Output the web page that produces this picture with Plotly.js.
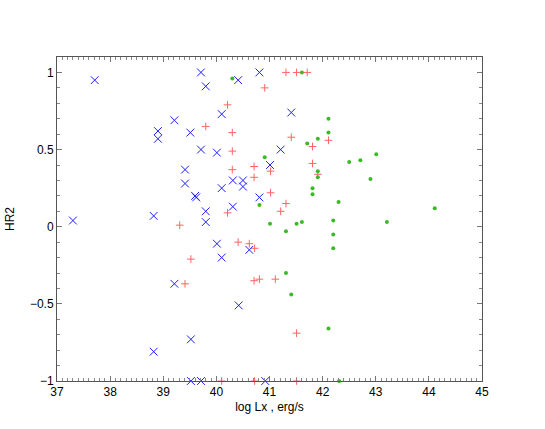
<!DOCTYPE html>
<html>
<head>
<meta charset="utf-8">
<script src="https://cdn.plot.ly/plotly-3.0.1.min.js"></script>
<style>html,body{margin:0;padding:0;background:#fff;}#chart{width:545px;height:429px;}</style>
</head>
<body>
<div id="chart"></div>
<script>
// Blue "x" markers
const blueX = [37.30, 37.71, 38.90, 38.90, 39.21, 39.51, 39.71, 39.80, 39.71, 39.41, 39.41, 39.60, 39.62, 39.80, 39.80, 38.82,
  40.81, 40.41, 40.10, 41.41, 40.01, 41.21, 41.01, 40.31, 40.50, 40.50, 40.10, 40.81, 40.31, 40.01, 40.10, 40.62, 40.42,
  40.92, 39.21, 39.52, 38.82, 39.52, 39.71];
const blueY = [0.04, 0.95, 0.62, 0.57, 0.69, 0.61, 1.00, 0.91, 0.50, 0.37, 0.28, 0.20, 0.19, 0.10, 0.03, 0.07,
  1.00, 0.95, 0.73, 0.74, 0.48, 0.50, 0.40, 0.30, 0.30, 0.26, 0.25, 0.19, 0.13, -0.11, -0.20, -0.15, -0.51,
  -1.00, -0.37, -0.73, -0.81, -1.00, -1.00];

// Red "+" markers
const redX = [39.80, 39.31, 41.31, 41.51, 41.71, 40.91, 40.21, 40.30, 41.41, 42.11, 41.81, 40.30, 41.81, 40.71, 41.02, 40.30,
  41.91, 40.71, 41.02, 41.31, 41.21, 40.21, 40.41, 40.62, 40.72, 40.71, 40.81, 41.11, 41.51, 40.10, 40.72, 41.51, 39.52, 39.41];
const redY = [0.65, 0.01, 1.00, 1.00, 1.00, 0.90, 0.79, 0.61, 0.58, 0.56, 0.52, 0.49, 0.41, 0.39, 0.36, 0.37,
  0.34, 0.32, 0.22, 0.15, 0.10, 0.09, -0.10, -0.11, -0.14, -0.35, -0.34, -0.34, -0.69, -1.00, -1.00, -1.00, -0.21, -0.37];

// Green dots
const greenX = [40.30, 41.61, 42.11, 42.11, 41.91, 41.71, 42.50, 40.91, 41.91, 41.91, 41.81, 41.81, 42.30, 40.81, 42.20,
  41.01, 41.51, 41.61, 42.71, 43.01, 42.90, 44.11, 43.21, 41.31, 42.20, 42.20, 41.31, 41.41, 42.11, 42.31];
const greenY = [0.96, 1.00, 0.70, 0.61, 0.57, 0.54, 0.42, 0.45, 0.36, 0.32, 0.25, 0.21, 0.16, 0.14, 0.04,
  0.02, 0.02, 0.03, 0.43, 0.47, 0.31, 0.12, 0.03, -0.03, -0.05, -0.14, -0.30, -0.44, -0.66, -1.00];

const xTickVals = [37, 38, 39, 40, 41, 42, 43, 44, 45];
const yTickVals = [-1, -0.5, 0, 0.5, 1];
const yTickText = ['\u22121', '\u22120.5', '0', '0.5', '1'];

const traces = [
  {x: redX, y: redY, type: 'scatter', mode: 'markers', cliponaxis: false,
   marker: {symbol: 'cross-thin-open', size: 5.5, color: 'rgb(255,100,100)', line: {color: 'rgb(255,100,100)', width: 1}}},
  {x: greenX, y: greenY, type: 'scatter', mode: 'markers', cliponaxis: false,
   marker: {symbol: 'circle', size: 4, color: 'rgb(60,185,40)', line: {width: 0}}},
  {x: blueX, y: blueY, type: 'scatter', mode: 'markers', cliponaxis: false,
   marker: {symbol: 'x-thin-open', size: 7.8, color: 'rgb(30,30,255)', line: {color: 'rgb(30,30,255)', width: 1}}}
];

const axisCommon = {
  showgrid: false, zeroline: false, showline: true, linecolor: '#555', linewidth: 1,
  mirror: 'ticks', ticks: 'inside', ticklen: 5, tickcolor: '#777', tickwidth: 1,
  tickfont: {family: 'Liberation Sans, Arial, sans-serif', size: 12, color: '#000'}
};

const layout = {
  width: 545, height: 429,
  margin: {l: 57, r: 63, t: 57, b: 48},
  paper_bgcolor: '#fff', plot_bgcolor: '#fff',
  showlegend: false,
  xaxis: Object.assign({}, axisCommon, {
    range: [37, 45], tickmode: 'array', tickvals: xTickVals, ticktext: xTickVals.map(String),
    minor: {dtick: 0.1, tick0: 37, ticks: 'inside', ticklen: 3, tickcolor: '#888', showgrid: false},
    title: {text: 'log Lx , erg/s', standoff: 4, font: {family: 'Liberation Sans, Arial, sans-serif', size: 12, color: '#000'}}
  }),
  yaxis: Object.assign({}, axisCommon, {
    range: [-1, 1.1], tickmode: 'array', tickvals: yTickVals, ticktext: yTickText,
    minor: {dtick: 0.1, tick0: -1, ticks: 'inside', ticklen: 3, tickcolor: '#888', showgrid: false},
    title: {text: 'HR2', standoff: 12, font: {family: 'Liberation Sans, Arial, sans-serif', size: 12, color: '#000'}}
  })
};

Plotly.newPlot('chart', traces, layout, {displayModeBar: false, staticPlot: true});
</script>
</body>
</html>
